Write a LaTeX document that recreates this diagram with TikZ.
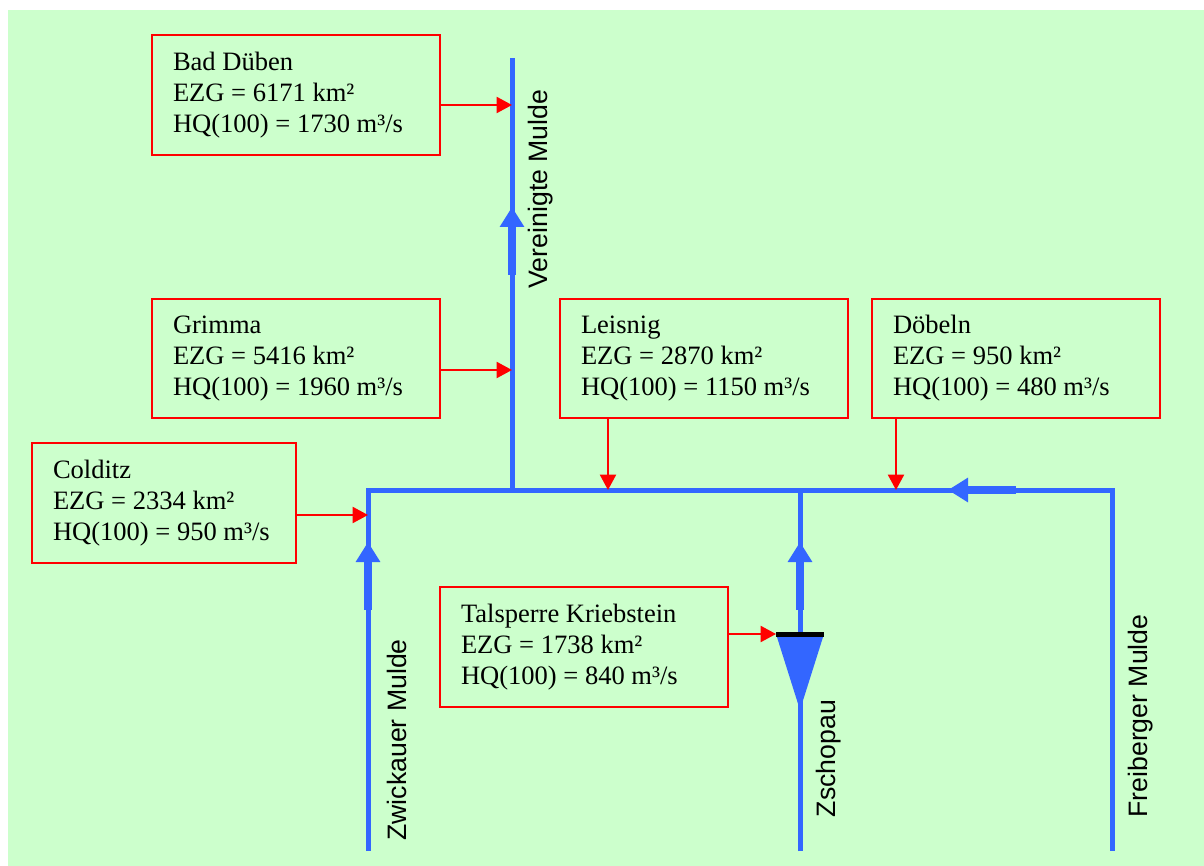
\documentclass[tikz,border=0pt]{standalone}
\usepackage{fontspec}
\setmainfont{Liberation Serif}
\newfontfamily\riverfont{Liberation Sans}
\usetikzlibrary{arrows.meta}
\definecolor{bggreen}{RGB}{204,255,204}
\definecolor{riverblue}{RGB}{51,102,255}
\tikzset{
  gaugebox/.style={draw=red, line width=1.5pt, minimum width=216pt, minimum height=89.5pt, inner sep=0pt,
    text width=184.5pt, align=flush left, font=\fontsize{19.9}{23.25}\selectfont},
  gauge/.style={draw=red, line width=1.5pt, -{Triangle[length=11.5pt,width=12pt]}},
  river/.style={draw=riverblue, line width=3.75pt},
  flow/.style={draw=riverblue, line width=6pt, -{Triangle[length=15pt,width=17.5pt]}},
  rivername/.style={font=\riverfont\fontsize{20}{23}\selectfont, rotate=90, inner sep=0pt}
}
\begin{document}
\begin{tikzpicture}[x=0.75pt, y=-0.75pt]
  \useasboundingbox (0,0) rectangle (1204,866);
  \fill[bggreen] (8,10) rectangle (1204,866);
  % rivers
  \coordinate (vtop) at (512,58);
  \coordinate (vfoot) at (512,490);
  \coordinate (zwfoot) at (368,851);
  \coordinate (zwtop) at (368,490);
  \coordinate (frfoot) at (1112,851);
  \coordinate (frtop) at (1112,490);
  \coordinate (zsfoot) at (800,851);
  \coordinate (zstop) at (800,490);
  \draw[river, line join=miter] (zwfoot) -- (zwtop) -- (frtop) -- (frfoot);
  \draw[river] (vfoot) -- (vtop);
  \draw[river] (zsfoot) -- (zstop);
  % flow arrows
  \draw[flow] (512,275) -- (512,207);
  \draw[flow] (368,610) -- (368,542);
  \draw[flow] (800,610) -- (800,542);
  \draw[flow] (1016,490) -- (948,490);
  % dam
  \coordinate (damw) at (776,634);
  \coordinate (dame) at (824,634);
  \coordinate (damtip) at (800,710);
  \fill[riverblue] (damw) -- (dame) -- (damtip) -- cycle;
  \draw[line width=3.75pt] (damw) -- (dame);
  % gauges
  \node[gaugebox] (badd) at (296,95) {Bad Düben\\EZG = 6171 km²\\HQ(100) = 1730 m³/s};
  \node[gaugebox] (grimma) at (296,358.5) {Grimma\\EZG = 5416 km²\\HQ(100) = 1960 m³/s};
  \node[gaugebox] (leisnig) at (704,358.5) {Leisnig\\EZG = 2870 km²\\HQ(100) = 1150 m³/s};
  \node[gaugebox] (doebeln) at (1016,358.5) {Döbeln\\EZG = 950 km²\\HQ(100) = 480 m³/s};
  \node[gaugebox, minimum width=198pt, text width=166.5pt] (colditz) at (164,503) {Colditz\\EZG = 2334 km²\\HQ(100) = 950 m³/s};
  \node[gaugebox] (kriebstein) at (584,647) {Talsperre Kriebstein\\EZG = 1738 km²\\HQ(100) = 840 m³/s};
  \coordinate (baddin) at (512,105);
  \coordinate (grimmain) at (512,370);
  \coordinate (colditzin) at (368,515);
  \coordinate (leisnigin) at (608,490);
  \coordinate (doebelnin) at (896,490);
  \draw[gauge] (badd.east |- baddin) -- (baddin);
  \draw[gauge] (grimma.east |- grimmain) -- (grimmain);
  \draw[gauge] (colditz.east |- colditzin) -- (colditzin);
  \draw[gauge] (leisnig.south -| leisnigin) -- (leisnigin);
  \draw[gauge] (doebeln.south -| doebelnin) -- (doebelnin);
  \draw[gauge] (kriebstein.east |- damw) -- (damw);
  % river names
  \node[rivername] (vname) at (541,189) {Vereinigte Mulde};
  \node[rivername] (zwname) at (397,740) {Zwickauer Mulde};
  \node[rivername] (zsname) at (829,758.5) {Zschopau};
  \node[rivername] (frname) at (1141,716) {Freiberger Mulde};
\end{tikzpicture}
\end{document}
